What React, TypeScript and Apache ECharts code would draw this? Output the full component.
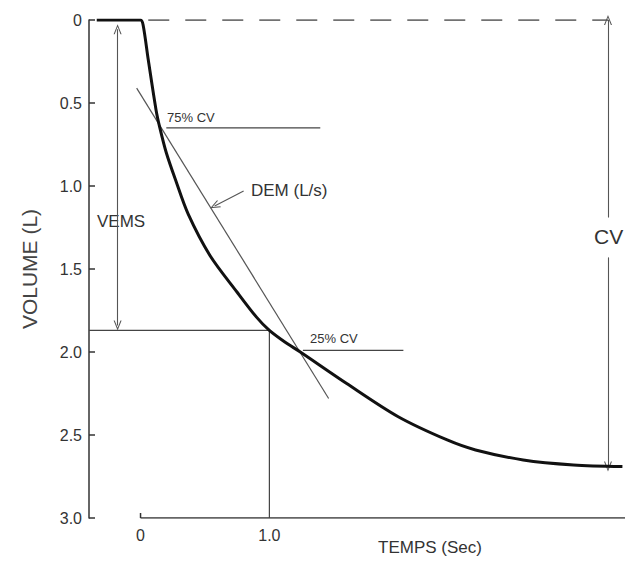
import React, { useEffect, useRef } from "react";
import * as echarts from "echarts";

// Spirogram: expired volume (L) vs time (s)
const timeS = [-0.34, 0, 0.02, 0.06, 0.12, 0.15, 0.2, 0.27, 0.37, 0.54, 0.75, 0.9, 1.0, 1.12, 1.24, 1.6, 2.0, 2.38, 2.6, 2.97, 3.36, 3.74];
const volumeL = [0, 0, 0.03, 0.24, 0.54, 0.65, 0.8, 0.96, 1.17, 1.42, 1.64, 1.79, 1.87, 1.94, 2.0, 2.19, 2.39, 2.53, 2.59, 2.65, 2.68, 2.69];

const yTickValues = [0, 0.5, 1.0, 1.5, 2.0, 2.5, 3.0];
const xTickLabels: Record<string, string> = { "0": "0", "1": "1.0" };

const vemsLevel = 1.87;
const vemsTime = 1.0;
const cv75Level = 0.65;
const cv25Level = 1.99;
const cv75LineT = [0.2, 1.395];
const cv25LineT = [1.26, 2.04];
const demLineT = [-0.03, 1.46];
const demLineV = [0.41, 2.28];
const zeroDashT = [0.06, 3.63];
const timeAxisT = [0, 3.76];
const vemsArrowT = -0.178;
const vemsArrowV = [0.055, 1.84];
const cvArrowT = 3.628;
const cvArrowV = [0.0, 1.19, 1.43, 2.69];
const demPointerT = [0.8, 0.575];
const demPointerV = [1.03, 1.12];

const FONT = "'Liberation Sans', Arial, Helvetica, sans-serif";
const chevron = "path://M0,10 L5,0 L10,10 L8.6,10 L5,2.6 L1.4,10 Z";

function seg(t: number[], v: number[]) {
  return t.map((x, i) => [x, v[i]]);
}

function thinLine(name: string, data: number[][], color = "#444", width = 1.2, type: any = "solid") {
  return {
    name,
    type: "line",
    data,
    symbol: "none",
    silent: true,
    lineStyle: { color, width, type },
    z: 2,
  };
}

function arrow(name: string, from: number[], to: number[], both: boolean) {
  return {
    name,
    type: "line",
    data: [],
    silent: true,
    markLine: {
      silent: true,
      animation: false,
      symbol: [both ? chevron : "none", chevron],
      symbolSize: [8, 10],
      label: { show: false },
      lineStyle: { color: "#555", width: 1.1, type: "solid" },
      emphasis: { disabled: true },
      data: [[{ coord: from }, { coord: to }]],
    },
  };
}

export default function App() {
  const ref = useRef<HTMLDivElement>(null);
  useEffect(() => {
    if (!ref.current) return;
    const chart = echarts.init(ref.current, null, { renderer: "svg" });
    const option: any = {
      animation: false,
      backgroundColor: "#ffffff",
      grid: { left: 89, right: 14, top: 20, bottom: 43, containLabel: false, outerBoundsMode: "none" },
      xAxis: {
        type: "value",
        min: -0.4,
        max: timeAxisT[1],
        interval: 0.2,
        axisLine: { show: false },
        axisTick: { show: false },
        splitLine: { show: false },
        axisLabel: {
          margin: 9,
          fontSize: 16,
          color: "#333",
          fontFamily: FONT,
          showMinLabel: true,
          formatter: (v: number) => {
            const k = String(Math.round(v * 1000) / 1000);
            return xTickLabels[k] ?? "";
          },
        },
      },
      yAxis: {
        type: "value",
        inverse: true,
        min: yTickValues[0],
        max: yTickValues[yTickValues.length - 1],
        interval: 0.5,
        axisLine: { show: true, onZero: false, lineStyle: { color: "#333", width: 1.5 } },
        axisTick: { show: true, inside: true, length: 6, lineStyle: { color: "#333", width: 1.5 } },
        splitLine: { show: false },
        axisLabel: {
          margin: 7,
          fontSize: 16,
          color: "#333",
          fontFamily: FONT,
          formatter: (v: number) => (v === 0 ? "0" : v.toFixed(1)),
        },
        name: "VOLUME (L)",
        nameLocation: "middle",
        nameRotate: 90,
        nameGap: 49,
        nameTextStyle: { fontSize: 21, color: "#444", fontFamily: FONT },
      },
      series: [
        thinLine("zero", seg(zeroDashT, [0, 0]), "#444", 1.5, [21, 16]),
        thinLine("timeAxis", seg(timeAxisT, [3, 3]), "#333", 1.5),
        thinLine("zeroTick", [[0, 3], [0, 2.97]], "#333", 1.5),
        thinLine("cv75", seg(cv75LineT, [cv75Level, cv75Level]), "#444", 1.2),
        thinLine("cv25", seg(cv25LineT, [cv25Level, cv25Level]), "#444", 1.2),
        thinLine("dem", seg(demLineT, demLineV), "#555", 1.2),
        thinLine("vemsH", [[-0.4, vemsLevel], [vemsTime, vemsLevel]], "#444", 1.2),
        thinLine("vemsV", [[vemsTime, vemsLevel], [vemsTime, 3]], "#444", 1.2),
        arrow("vemsArrow", [vemsArrowT, vemsArrowV[0]], [vemsArrowT, vemsArrowV[1]], true),
        arrow("cvArrowTop", [cvArrowT, cvArrowV[1]], [cvArrowT, cvArrowV[0]], false),
        arrow("cvArrowBottom", [cvArrowT, cvArrowV[2]], [cvArrowT, cvArrowV[3]], false),
        arrow("demPointer", [demPointerT[0], demPointerV[0]], [demPointerT[1], demPointerV[1]], false),
        {
          name: "spirogram",
          type: "line",
          data: seg(timeS, volumeL),
          symbol: "none",
          smooth: 0.3,
          silent: true,
          lineStyle: { color: "#111", width: 3 },
          z: 5,
        },
      ],
      graphic: [
        { type: "text", left: 167, top: 111, style: { text: "75% CV", fontSize: 13, fill: "#333", fontFamily: FONT } },
        { type: "text", left: 310, top: 332, style: { text: "25% CV", fontSize: 13, fill: "#333", fontFamily: FONT } },
        { type: "text", left: 251, top: 182, style: { text: "DEM (L/s)", fontSize: 17, fill: "#333", fontFamily: FONT } },
        { type: "text", left: 97, top: 213, style: { text: "VEMS", fontSize: 17, fill: "#333", fontFamily: FONT } },
        { type: "text", left: 594, top: 226, style: { text: "CV", fontSize: 21, fill: "#333", fontFamily: FONT } },
        { type: "text", left: 378, top: 539, style: { text: "TEMPS (Sec)", fontSize: 17, fill: "#333", fontFamily: FONT } },
      ],
    };
    chart.setOption(option);
    return () => chart.dispose();
  }, []);
  return (
    <div
      ref={ref}
      style={{ position: "fixed", left: 0, top: 0, width: 639, height: 561, background: "#fff" }}
    />
  );
}
